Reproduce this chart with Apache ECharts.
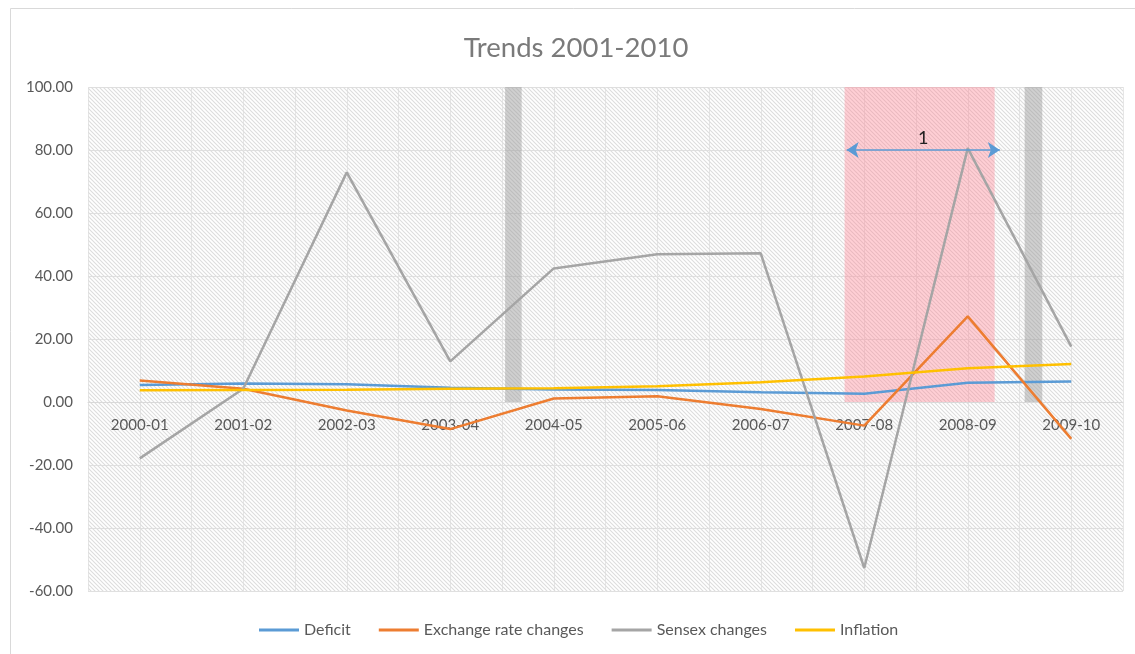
<!DOCTYPE html>
<html>
<head>
<meta charset="utf-8">
<title>Trends 2001-2010</title>
<script src="https://cdn.jsdelivr.net/npm/echarts@6/dist/echarts.min.js"></script>
<style>
  html, body { margin: 0; padding: 0; background: #fff; }
  #chart { width: 1135px; height: 654px; }
</style>
</head>
<body>
<div id="chart"></div>
<script>
var years = ['2000-01', '2001-02', '2002-03', '2003-04', '2004-05', '2005-06', '2006-07', '2007-08', '2008-09', '2009-10'];
var deficit = [5.4, 5.9, 5.6, 4.5, 4.0, 3.8, 3.1, 2.6, 6.1, 6.5];
var exchange = [6.8, 4.2, -2.7, -8.6, 1.1, 1.8, -2.2, -7.5, 27.2, -11.7];
var sensex = [-17.9, 4.2, 72.9, 12.9, 42.4, 46.9, 47.2, -52.7, 80.6, 17.6];
var inflation = [3.7, 3.8, 3.9, 4.2, 4.4, 5.0, 6.3, 8.1, 10.7, 12.1];

var txt = '#595959';
var font = 'Lato, "Open Sans", sans-serif';

var gridTop = 87, gridBottom = 63, H = 654;
var yMin = -60, yMax = 100;
// category axis sits on the zero line, like the Excel original
var zeroOffset = -(H - gridTop - gridBottom) * (0 - yMin) / (yMax - yMin);

// diagonal hatch for the plot area
var hatch = document.createElement('canvas');
hatch.width = 4; hatch.height = 4;
var g = hatch.getContext('2d');
g.strokeStyle = '#dddddd';
g.lineWidth = 1.1;
g.beginPath();
g.moveTo(-1, -1); g.lineTo(5, 5);
g.moveTo(-1, 3); g.lineTo(1, 5);
g.moveTo(3, -1); g.lineTo(5, 1);
g.stroke();

function line(name, data, color) {
    return {
        name: name,
        type: 'line',
        data: data,
        showSymbol: false,
        symbol: 'none',
        z: 2,
        lineStyle: { color: color, width: 2.5 },
        itemStyle: { color: color }
    };
}

var chart = echarts.init(document.getElementById('chart'));
chart.setOption({
    animation: false,
    title: {
        text: 'Trends 2001-2010',
        left: 571,
        textAlign: 'center',
        top: 29,
        textStyle: { fontFamily: font, fontSize: 27.5, fontWeight: 'normal', color: '#7a7a7a' }
    },
    graphic: [{
        type: 'rect',
        shape: { x: 10.5, y: 8.5, width: 1140, height: 660 },
        style: { fill: 'none', stroke: '#d9d9d9', lineWidth: 1 },
        silent: true
    }],
    legend: {
        top: 617,
        left: 254,
        itemWidth: 40,
        itemHeight: 3,
        itemGap: 28,
        icon: 'rect',
        data: ['Deficit', 'Exchange rate changes', 'Sensex changes', 'Inflation'],
        textStyle: { fontFamily: font, fontSize: 16, color: txt }
    },
    grid: { left: 88, right: 12, top: gridTop, bottom: gridBottom },
    xAxis: [{
        type: 'category',
        data: years,
        boundaryGap: true,
        offset: zeroOffset,
        z: 1.5,
        axisLine: { show: true, onZero: false, lineStyle: { color: '#d9d9d9' } },
        axisTick: { show: false },
        axisLabel: { fontFamily: font, fontSize: 15, color: txt, margin: 16, interval: 0 },
        splitLine: { show: false }
    }, {
        type: 'value',
        min: 0,
        max: 10,
        interval: 0.5,
        position: 'top',
        axisLine: { show: false, onZero: false },
        axisTick: { show: false },
        axisLabel: { show: false },
        splitLine: { show: true, lineStyle: { color: '#e6e6e6', width: 1 } }
    }],
    yAxis: {
        type: 'value',
        min: yMin,
        max: yMax,
        interval: 20,
        axisLine: { show: false, onZero: false },
        axisTick: { show: false },
        axisLabel: {
            fontFamily: font, fontSize: 15, color: txt, margin: 15,
            formatter: function (v) { return v.toFixed(2); }
        },
        splitLine: { lineStyle: { color: '#e0e0e0', width: 1 } }
    },
    series: [
        {
            name: 'hatch',
            type: 'line',
            xAxisIndex: 1,
            data: [],
            z: 1,
            silent: true,
            markArea: {
                silent: true,
                itemStyle: { color: { image: hatch, repeat: 'repeat' } },
                data: [[{ coord: [0, yMin] }, { coord: [10, yMax] }]]
            }
        },
        line('Deficit', deficit, '#5B9BD5'),
        line('Exchange rate changes', exchange, '#ED7D31'),
        line('Sensex changes', sensex, '#A5A5A5'),
        line('Inflation', inflation, '#FFC000'),
        {
            name: 'notes',
            type: 'line',
            xAxisIndex: 1,
            data: [],
            z: 3,
            silent: true,
            markArea: {
                silent: true,
                data: [
                    [{ coord: [4.03, 0], itemStyle: { color: 'rgba(150,150,150,0.45)' } }, { coord: [4.19, 100] }],
                    [{ coord: [9.05, 0], itemStyle: { color: 'rgba(150,150,150,0.45)' } }, { coord: [9.22, 100] }],
                    [{ coord: [7.31, 0], itemStyle: { color: 'rgba(255,130,145,0.38)' } }, { coord: [8.76, 100] }]
                ]
            },
            markLine: {
                silent: true,
                symbol: ['arrow', 'arrow'],
                symbolSize: [12, 12],
                lineStyle: { color: '#5B9BD5', width: 1.5, type: 'solid' },
                label: {
                    show: true,
                    position: 'middle',
                    formatter: '1',
                    color: '#222',
                    fontFamily: font,
                    fontSize: 18,
                    distance: 3
                },
                data: [[{ coord: [7.33, 80] }, { coord: [8.81, 80] }]]
            }
        }
    ]
});
</script>
</body>
</html>
